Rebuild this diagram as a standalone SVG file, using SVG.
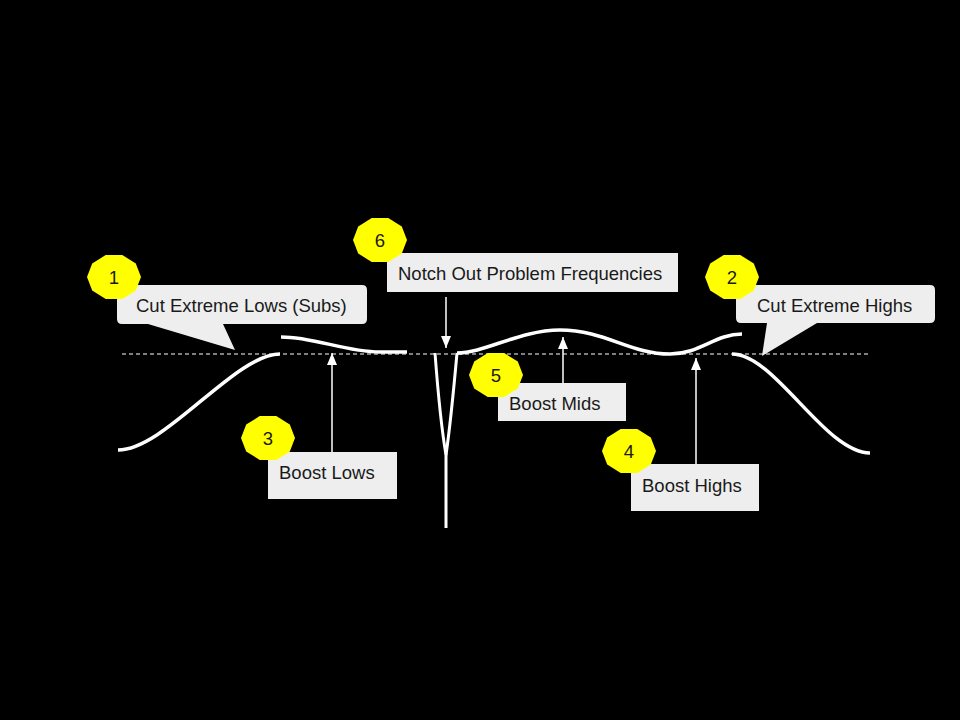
<svg xmlns="http://www.w3.org/2000/svg" width="960" height="720" viewBox="0 0 960 720">
<defs>
<style>
.lbl{font-family:"Liberation Sans",Arial,sans-serif;font-size:18.5px;fill:#1a1a1a}
.num{font-family:"Liberation Sans",Arial,sans-serif;font-size:18.5px;fill:#1a1a1a;text-anchor:middle}
.box{fill:#eeeeee}
.badge{fill:#ffff00}
.curve{fill:none;stroke:#ffffff;stroke-width:3.5;stroke-linecap:butt}
.notch{fill:none;stroke:#ffffff;stroke-width:3;stroke-linecap:butt}
.arrow{fill:none;stroke:#ffffff;stroke-width:1.5}
.base{fill:none;stroke:#ffffff;stroke-width:1.2;stroke-dasharray:4,3}
</style>
<marker id="ah" viewBox="0 0 12 10" refX="12" refY="5" markerWidth="12" markerHeight="10" markerUnits="userSpaceOnUse" orient="auto">
<path d="M0,0 L12,5 L0,10 z" fill="#ffffff"/>
</marker>
<polygon id="badge" points="27,0 21.8,-13.5 8.3,-21.9 -8.3,-21.9 -21.8,-13.5 -27,0 -21.8,13.5 -8.3,21.9 8.3,21.9 21.8,13.5"/>
</defs>
<rect width="960" height="720" fill="#000000"/>

<g id="connectors">
<line class="base" x1="122" y1="354" x2="868" y2="354"/>
<path class="curve" d="M118,450 C165,450 235,354 280,354"/>
<path class="curve" d="M281,337 C315,337 345,352 380,352 L407,352"/>
<path class="notch" d="M435,353 Q440,420 446,455 L446,528"/>
<path class="notch" d="M457,353 Q451,420 446,455"/>
<path class="curve" d="M457,353 C485,353 520,330 560,330 C605,330 630,354 670,354 C700,354 715,334 742,334"/>
<path class="curve" d="M732,354 C775,354 825,453 870,453"/>
<line class="arrow" x1="332" y1="452" x2="332" y2="353" marker-end="url(#ah)"/>
<line class="arrow" x1="563" y1="383" x2="563" y2="337" marker-end="url(#ah)"/>
<line class="arrow" x1="696" y1="464" x2="696" y2="358" marker-end="url(#ah)"/>
<line class="arrow" x1="446" y1="297" x2="446" y2="348" marker-end="url(#ah)"/>
</g>

<g id="node-cut-lows">
<path class="box" d="M122,285 H362 Q367,285 367,290 V319 Q367,324 362,324 H223 L235,350 L148,324 H122 Q117,324 117,319 V290 Q117,285 122,285 Z"/>
<text class="lbl" x="136" y="312">Cut Extreme Lows (Subs)</text>
</g>
<g id="node-cut-highs">
<path class="box" d="M741,285 H930 Q935,285 935,290 V318 Q935,323 930,323 H817 L762,356 L767,323 H741 Q736,323 736,318 V290 Q736,285 741,285 Z"/>
<text class="lbl" x="757" y="312">Cut Extreme Highs</text>
</g>
<g id="node-notch">
<rect class="box" x="387" y="253" width="291" height="39"/>
<text class="lbl" x="398" y="280">Notch Out Problem Frequencies</text>
</g>
<g id="node-boost-lows">
<rect class="box" x="268" y="452" width="129" height="47"/>
<text class="lbl" x="279" y="479">Boost Lows</text>
</g>
<g id="node-boost-mids">
<rect class="box" x="498" y="383" width="128" height="38"/>
<text class="lbl" x="509" y="410">Boost Mids</text>
</g>
<g id="node-boost-highs">
<rect class="box" x="631" y="464" width="128" height="47"/>
<text class="lbl" x="642" y="492">Boost Highs</text>
</g>

<g id="badge-1"><use href="#badge" class="badge" x="114" y="277"/><text class="num" x="114" y="284">1</text></g>
<g id="badge-2"><use href="#badge" class="badge" x="732" y="277"/><text class="num" x="732" y="284">2</text></g>
<g id="badge-3"><use href="#badge" class="badge" x="268" y="438"/><text class="num" x="268" y="445">3</text></g>
<g id="badge-4"><use href="#badge" class="badge" x="629" y="451"/><text class="num" x="629" y="458">4</text></g>
<g id="badge-5"><use href="#badge" class="badge" x="496" y="375"/><text class="num" x="496" y="382">5</text></g>
<g id="badge-6"><use href="#badge" class="badge" x="380" y="240"/><text class="num" x="380" y="247">6</text></g>
</svg>
